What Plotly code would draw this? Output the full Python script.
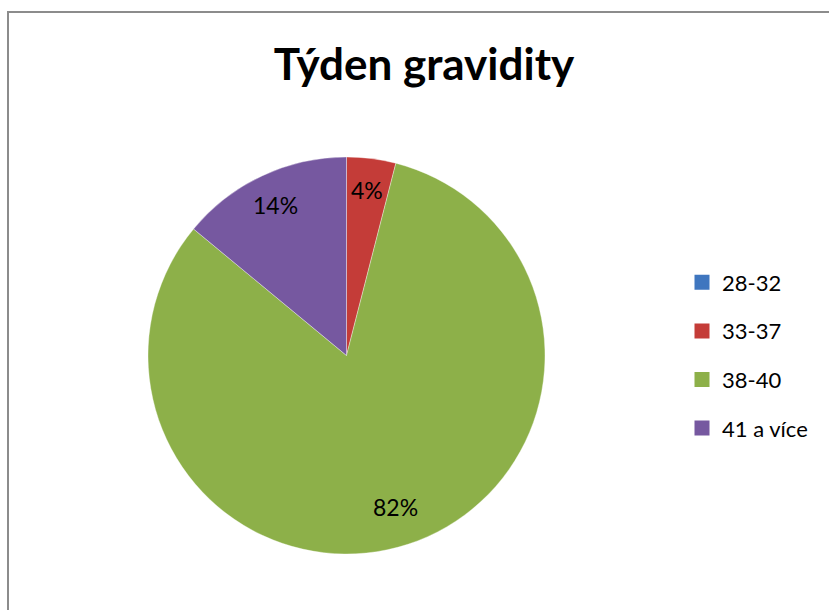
import math
import plotly.graph_objects as go

# Data
categories = ["28-32", "33-37", "38-40", "41 a více"]
counts = [0, 2, 41, 7]
colors = ["#3F76BF", "#C43C38", "#8DB049", "#7658A0"]
title_text = "Týden gravidity"

W, H = 829, 610
# pie geometry (pixels)
cx, cy, R = 346.5, 355.5, 198.5

fig = go.Figure()
fig.add_trace(go.Pie(
    labels=categories, values=counts, sort=False, direction="clockwise", rotation=0,
    marker=dict(colors=colors, line=dict(color="rgba(255,255,255,0.6)", width=0.6)),
    textinfo="none", hoverinfo="label+percent", showlegend=False,
    domain=dict(x=[(cx - R) / W, (cx + R) / W], y=[1 - (cy + R) / H, 1 - (cy - R) / H]),
))

# legend entries via dummy traces
for i, (c, col) in enumerate(zip(categories, colors)):
    fig.add_trace(go.Scatter(
        x=[None], y=[None], mode="markers", name=c, legendgroup=f"g{i}",
        marker=dict(symbol="square", size=15, color=col),
    ))

# percentage labels computed from data
total = sum(counts)
cum = 0
annotations = []
for v in counts:
    if v > 0:
        mid = (cum + v / 2) / total * 2 * math.pi
        f = 0.84 if v / total < 0.5 else 0.80
        px = cx + f * R * math.sin(mid)
        py = cy - f * R * math.cos(mid)
        annotations.append(dict(
            x=px / W, y=1 - py / H, xref="paper", yref="paper",
            text=f"{round(v / total * 100)}%", showarrow=False,
            font=dict(family="Lato", size=23, color="#000000"),
            xanchor="center", yanchor="middle",
        ))
    cum += v

fig.update_layout(
    width=W, height=H,
    margin=dict(l=0, r=0, t=0, b=0),
    paper_bgcolor="white", plot_bgcolor="white",
    title=dict(text=f"<b>{title_text}</b>", x=424 / W, xanchor="center",
               y=1 - 65 / H, yanchor="middle", yref="container",
               font=dict(family="Lato", size=44, color="#000000")),
    xaxis=dict(visible=False), yaxis=dict(visible=False),
    legend=dict(x=682 / W, xanchor="left", y=1 - 355.5 / H, yanchor="middle",
                font=dict(family="Lato", size=22, color="#000000"),
                tracegroupgap=17, itemwidth=30, bgcolor="rgba(0,0,0,0)"),
    annotations=annotations,
    shapes=[dict(type="rect", xref="paper", yref="paper",
                 x0=8 / W, x1=1.02, y0=-0.02, y1=1 - 12 / H,
                 line=dict(color="#8C8C8C", width=2))],
)

fig.write_html("out.html")
